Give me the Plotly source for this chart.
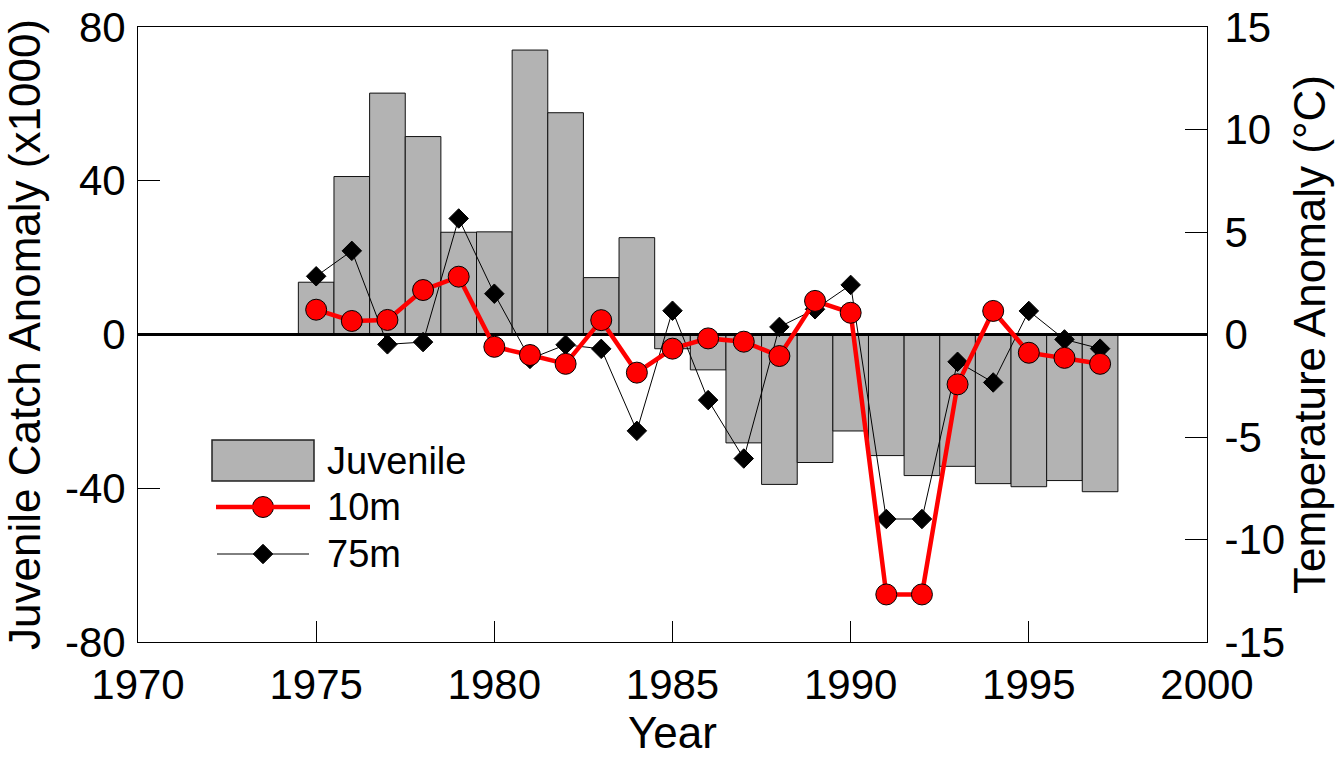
import plotly.graph_objects as go

# ---------------- data ----------------
years = list(range(1975, 1998))
juvenile = [13.6, 41.1, 62.8, 51.5, 26.6, 26.7, 74.0, 57.7, 14.8, 25.2,
            -3.7, -9.2, -28.2, -39.0, -33.3, -25.1, -31.5, -36.7, -34.3,
            -38.8, -39.6, -38.0, -40.9]
temp_10m = [1.21, 0.66, 0.71, 2.17, 2.82, -0.60, -1.00, -1.43, 0.70, -1.86,
            -0.69, -0.19, -0.35, -1.05, 1.64, 1.06, -12.68, -12.68, -2.43,
            1.15, -0.89, -1.14, -1.43]
temp_75m = [2.84, 4.08, -0.48, -0.37, 5.66, 1.99, -1.19, -0.50, -0.70, -4.70,
            1.16, -3.20, -6.05, 0.37, 1.23, 2.42, -9.00, -9.00, -1.33,
            -2.34, 1.15, -0.24, -0.69]

x_range = [1970, 2000]
x_ticks = [1970, 1975, 1980, 1985, 1990, 1995, 2000]
y_left_range = [-80, 80]
y_left_ticks = [-80, -40, 0, 40, 80]
y_left_labels = ["-80", "-40", "0", "40", "80"]
y_right_range = [-15, 15]
y_right_ticks = [-15, -10, -5, 0, 5, 10, 15]
y_right_labels = ["-15", "-10", "-5", "0", "5", "10", "15"]
legend_labels = ["Juvenile", "10m", "75m"]

FONT = "Liberation Sans, Arial, sans-serif"
BAR_FILL = "#b3b3b3"

W, H = 1343, 757
L, R, T, B = 138, 136, 27, 115

fig = go.Figure()

fig.add_trace(go.Bar(
    x=years, y=juvenile, width=1.0,
    marker=dict(color=BAR_FILL, line=dict(color="#111111", width=1)),
    showlegend=False, hoverinfo="skip", xaxis="x", yaxis="y"))

# zero reference line (drawn above bars, below the temperature series)
fig.add_trace(go.Scatter(
    x=x_range, y=[0, 0], mode="lines",
    line=dict(color="black", width=3),
    showlegend=False, hoverinfo="skip", xaxis="x", yaxis="y"))

fig.add_trace(go.Scatter(
    x=years, y=temp_75m, mode="lines+markers",
    line=dict(color="black", width=1),
    marker=dict(symbol="diamond", size=15, color="black",
                line=dict(color="black", width=1)),
    showlegend=False, xaxis="x", yaxis="y2"))

fig.add_trace(go.Scatter(
    x=years, y=temp_10m, mode="lines+markers",
    line=dict(color="#ff0000", width=4.5),
    marker=dict(symbol="circle", size=21, color="#ff0000",
                line=dict(color="black", width=1)),
    showlegend=False, xaxis="x", yaxis="y2"))

# ---------------- custom legend (pixel-coordinate overlay axes) ----------------
px_x = [L, W - R]
px_y = [H - B, T]

fig.add_shape(type="rect", xref="x3", yref="y3", x0=212, x1=314, y0=440, y1=481,
              fillcolor=BAR_FILL, line=dict(color="#222222", width=1.5))
fig.add_shape(type="line", xref="x3", yref="y3", x0=216, x1=310, y0=507, y1=507,
              line=dict(color="#ff0000", width=4.5))
fig.add_shape(type="line", xref="x3", yref="y3", x0=217, x1=309, y0=554, y1=554,
              line=dict(color="black", width=1))
fig.add_trace(go.Scatter(
    x=[263], y=[507], mode="markers",
    marker=dict(symbol="circle", size=21, color="#ff0000",
                line=dict(color="black", width=1)),
    showlegend=False, hoverinfo="skip", xaxis="x3", yaxis="y3"))
fig.add_trace(go.Scatter(
    x=[263], y=[554], mode="markers",
    marker=dict(symbol="diamond", size=15, color="black",
                line=dict(color="black", width=1)),
    showlegend=False, hoverinfo="skip", xaxis="x3", yaxis="y3"))
for lab, yy in zip(legend_labels, [461, 507, 554]):
    fig.add_annotation(x=325, y=yy, xref="x3", yref="y3", text=lab,
                       showarrow=False, xanchor="left", yanchor="middle",
                       font=dict(family=FONT, size=38, color="black"))

axis_common = dict(showgrid=False, showline=True, linecolor="black", linewidth=1,
                   ticks="inside", tickcolor="black", tickwidth=1, automargin=False,
                   tickfont=dict(family=FONT, size=42, color="black"))

fig.update_layout(
    width=W, height=H,
    margin=dict(l=L, r=R, t=T, b=B, pad=0),
    paper_bgcolor="white", plot_bgcolor="white",
    font=dict(family=FONT, color="black"),
    showlegend=False,
    xaxis=dict(range=x_range, tickvals=x_ticks, ticklen=21, mirror=True,
               zeroline=False, ticklabelstandoff=6,
               title=dict(text="Year", font=dict(family=FONT, size=44), standoff=6),
               **axis_common),
    yaxis=dict(range=y_left_range, tickvals=y_left_ticks, ticktext=y_left_labels,
               ticklen=22, zeroline=False, ticklabelstandoff=3,
               title=dict(text="Juvenile Catch Anomaly (x1000)",
                          font=dict(family=FONT, size=44), standoff=16),
               **axis_common),
    yaxis2=dict(range=y_right_range, tickvals=y_right_ticks, ticktext=y_right_labels,
                ticklen=22, overlaying="y", side="right", zeroline=False,
                ticklabelstandoff=8,
                title=dict(text="Temperature Anomaly (°C)",
                           font=dict(family=FONT, size=44), standoff=10),
                **axis_common),
    xaxis3=dict(range=px_x, overlaying="x", visible=False, anchor="y3"),
    yaxis3=dict(range=px_y, overlaying="y", visible=False, anchor="x3"),
)

fig.write_html("out.html")
